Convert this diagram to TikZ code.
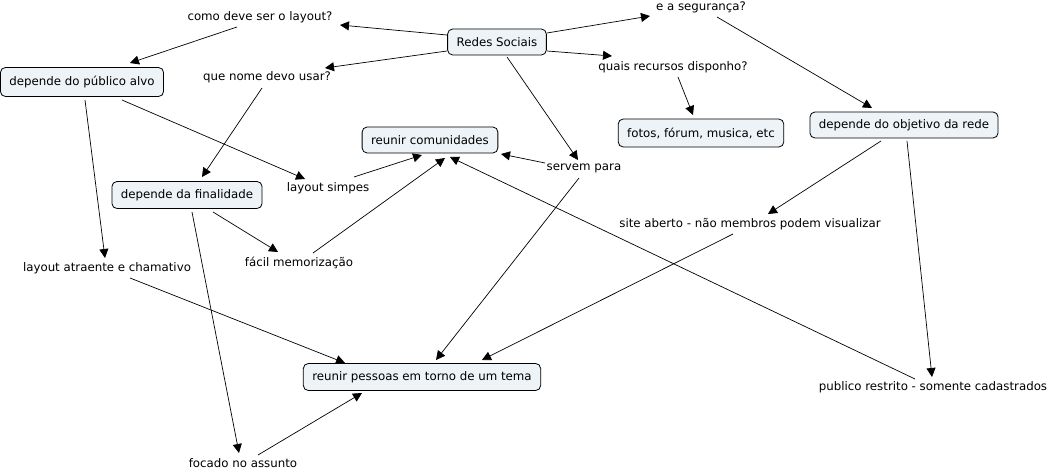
\documentclass[tikz,border=0pt]{standalone}
\usepackage{fontspec}
\setmainfont{DejaVu Sans}
\usetikzlibrary{arrows.meta,calc}
\definecolor{boxfill}{RGB}{237,243,246}
\begin{document}
\begin{tikzpicture}[x=1pt,y=-1pt,
  every node/.style={font=\fontsize{11.8}{14}\selectfont, text=black},
  concept/.style={draw=black, line width=0.8pt, fill=boxfill, rounded corners=5pt,
    inner xsep=9pt, minimum height=26pt, anchor=center},
  phrase/.style={inner sep=1pt, anchor=center},
  arr/.style={draw=black, line width=0.7pt, -{Triangle[length=9pt,width=9pt]}}]
\useasboundingbox (0,0) rectangle (1053,470);
\fill[white] (0,0) rectangle (1053,470);
% concepts
\node[concept] (redes) at (497,42) {Redes Sociais};
\node[concept, minimum height=29pt] (publico) at (82,82) {depende do público alvo};
\node[concept] (comun) at (430,140) {reunir comunidades};
\node[concept, minimum height=28pt] (fotos) at (701,133) {fotos, fórum, musica, etc};
\node[concept] (objetivo) at (904,125) {depende do objetivo da rede};
\node[concept, minimum height=27pt] (finalidade) at (187,195) {depende da finalidade};
\node[concept, minimum height=27pt] (pessoas) at (422,377) {reunir pessoas em torno de um tema};
% linking phrases
\node[phrase] (como) at (260,17) {como deve ser o layout?};
\node[phrase] (seg) at (701,7) {e a segurança?};
\node[phrase] (quenome) at (267,77) {que nome devo usar?};
\node[phrase] (quais) at (673,67) {quais recursos disponho?};
\node[phrase] (servem) at (584,168) {servem para};
\node[phrase] (simpes) at (328,188) {layout simpes};
\node[phrase] (aberto) at (750,224) {site aberto - não membros podem visualizar};
\node[phrase] (facil) at (299,263) {fácil memorização};
\node[phrase] (atraente) at (107,268) {layout atraente e chamativo};
\node[phrase] (restrito) at (933,387) {publico restrito - somente cadastrados};
\node[phrase] (focado) at (243,463) {focado no assunto};
% connectors
\draw[arr] ($(redes)+(-50,-7)$) -- ($(como)+(80,8)$);
\draw[arr] ($(como)+(-23,10)$) -- ($(publico)+(48,-19)$);
\draw[arr] ($(redes)+(-50,9)$) -- ($(quenome)+(58,-9)$);
\draw[arr] ($(quenome)+(-5,11)$) -- ($(finalidade)+(15,-18)$);
\draw[arr] ($(redes)+(50,-9)$) -- ($(seg)+(-51,9)$);
\draw[arr] ($(seg)+(16,10)$) -- ($(objetivo)+(-32,-17)$);
\draw[arr] ($(redes)+(50,9)$) -- ($(quais)+(-61,-11)$);
\draw[arr] ($(quais)+(5,10)$) -- ($(fotos)+(-8,-18)$);
\draw[arr] ($(redes)+(10,15)$) -- ($(servem)+(-6,-8)$);
\draw[arr] ($(servem)+(-39,-5)$) -- ($(comun)+(71,14)$);
\draw[arr] ($(servem)+(-5,10)$) -- ($(pessoas)+(14,-17)$);
\draw[arr] ($(publico)+(40,18)$) -- ($(simpes)+(-23,-9)$);
\draw[arr] ($(publico)+(3,18)$) -- ($(atraente)+(-2,-10)$);
\draw[arr] ($(simpes)+(26,-11)$) -- ($(comun)+(-8,15)$);
\draw[arr] ($(finalidade)+(26,17)$) -- ($(facil)+(-21,-11)$);
\draw[arr] ($(finalidade)+(5,17)$) -- ($(focado)+(-4,-10)$);
\draw[arr] ($(facil)+(14,-10)$) -- ($(comun)+(15,18)$);
\draw[arr] ($(atraente)+(23,10)$) -- ($(pessoas)+(-77,-14)$);
\draw[arr] ($(focado)+(15,-8)$) -- ($(pessoas)+(-60,16)$);
\draw[arr] ($(objetivo)+(-23,16)$) -- ($(aberto)+(18,-10)$);
\draw[arr] ($(objetivo)+(3,16)$) -- ($(restrito)+(-1,-10)$);
\draw[arr] ($(aberto)+(-17,10)$) -- ($(pessoas)+(60,-17)$);
\draw[arr] ($(restrito)+(-18,-8)$) -- ($(comun)+(20,17)$);
\end{tikzpicture}
\end{document}
